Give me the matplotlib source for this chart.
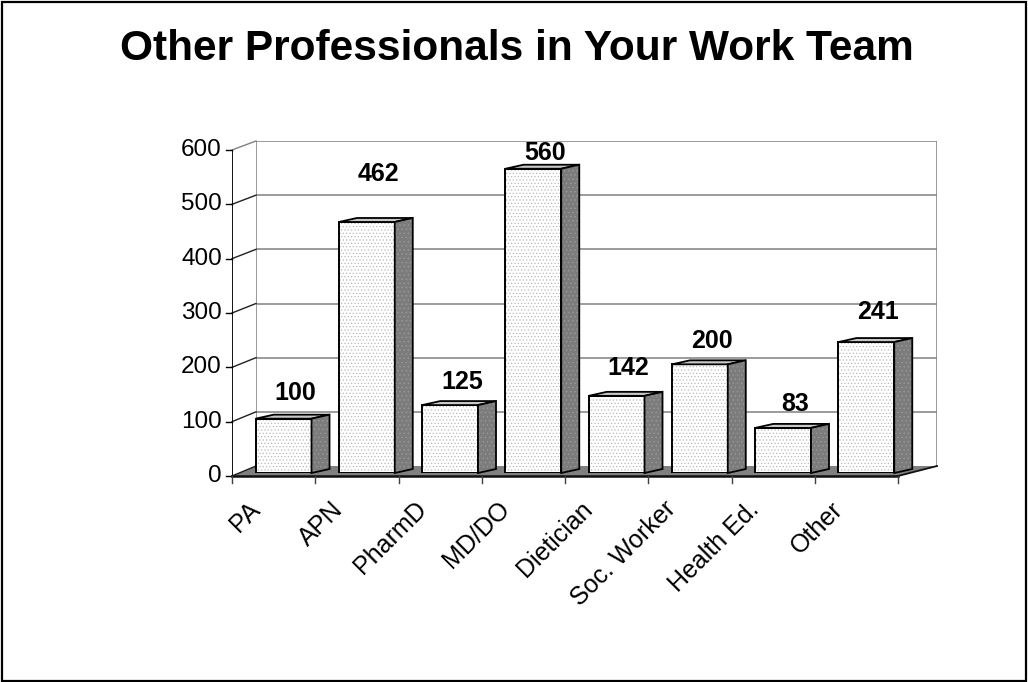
import matplotlib
matplotlib.use("Agg")
import matplotlib.pyplot as plt
from matplotlib.patches import Polygon, Rectangle
from matplotlib.lines import Line2D
from matplotlib.transforms import IdentityTransform, Affine2D
import numpy as np

plt.rcParams['font.family'] = ['Liberation Sans', 'DejaVu Sans']
plt.rcParams['hatch.linewidth'] = 0.5

categories = ['PA', 'APN', 'PharmD', 'MD/DO', 'Dietician', 'Soc. Worker', 'Health Ed.', 'Other']
counts = [100, 462, 125, 560, 142, 200, 83, 241]
y_ticks = [0, 100, 200, 300, 400, 500, 600]
title = 'Other Professionals in Your Work Team'

# vertical gap (px) between each bar top and its value label
label_lift = [26, 48, 23, 16, 28, 23, 24, 30]

W, H = 1028, 682
fig = plt.figure(figsize=(W / 100, H / 100), dpi=100)
fig.patch.set_facecolor('white')


def rect(left, top, right, bottom):
    return [left / W, 1 - bottom / H, (right - left) / W, (bottom - top) / H]


# three planes of the pseudo-3D box: back wall, front edge, bar faces
ax_back = fig.add_axes(rect(256, 141, 937, 466), zorder=0)
ax_front = fig.add_axes(rect(232, 150, 898, 476), zorder=1)
ax_bar = fig.add_axes(rect(242, 147, 908, 473), zorder=2)
n = len(categories)
for ax in (ax_back, ax_front, ax_bar):
    ax.set_xlim(0, n)
    ax.set_ylim(y_ticks[0], y_ticks[-1])
    ax.axis('off')
    ax.patch.set_visible(False)

PX = IdentityTransform()
fig.canvas.draw()


def disp(ax, x, y):
    return np.asarray(ax.transData.transform((x, y)))


def seg(ax, p, q, **kw):
    ax.add_line(Line2D([p[0], q[0]], [p[1], q[1]], transform=PX, clip_on=False, **kw))


# back wall grid and edges
ax_back.hlines(y_ticks[1:], 0, n, color='#808080', lw=1.1)
ax_back.vlines([0, n], y_ticks[0], y_ticks[-1], color='#808080', lw=1.1)

# floor
floor = [disp(ax_front, 0, 0), disp(ax_front, n, 0), disp(ax_back, n, 0), disp(ax_back, 0, 0)]
ax_front.add_patch(Polygon(floor, closed=True, facecolor='#808080', edgecolor='none',
                           transform=PX, clip_on=False))

# left wall lines
for v in y_ticks:
    col = '#808080' if v == y_ticks[-1] else '#202020'
    seg(ax_front, disp(ax_front, 0, v), disp(ax_back, 0, v), color=col, lw=1.0)

# front value axis with outward ticks and labels
ax_front.vlines(0, y_ticks[0], y_ticks[-1], color='black', lw=1.3)
for v in y_ticks:
    p = disp(ax_front, 0, v)
    seg(ax_front, p, p + np.array([-6, 0]), color='black', lw=1.0)
    ax_front.text(0, v, str(v), transform=ax_front.transData + Affine2D().translate(-10, 0),
                  ha='right', va='center', fontsize=17.5)

# front floor edge, right floor edge and category ticks
seg(ax_front, disp(ax_front, 0, 0), disp(ax_front, n, 0), color='#101010', lw=1.8)
seg(ax_front, disp(ax_front, n, 0), disp(ax_back, n, 0), color='#101010', lw=1.3)
for i in range(n + 1):
    p = disp(ax_front, i, 0)
    seg(ax_front, p, p + np.array([0, -7]), color='#404040', lw=1.0)

# category labels
for i, cat in enumerate(categories):
    ax_front.text(i + 0.5, 0, cat, transform=ax_front.transData + Affine2D().translate(-26, -21),
                  rotation=45, ha='right', va='top', rotation_mode='anchor', fontsize=18)

# bars: front faces, tops and sides
width = 0.67
depth = np.array([18, 4])
xs = np.arange(n) + 0.5
ax_bar.bar(xs, counts, width=width, color='white', hatch='.....', edgecolor='#b8b8b8',
           linewidth=0, zorder=2)
ax_bar.bar(xs, counts, width=width, fill=False, edgecolor='black', linewidth=1.4, zorder=3)
for i, (x, v) in enumerate(zip(xs, counts)):
    a = disp(ax_bar, x - width / 2, v)
    b = disp(ax_bar, x + width / 2, v)
    c = disp(ax_bar, x + width / 2, 0)
    top = [a, b, b + depth, a + depth]
    side = [b, c, c + depth, b + depth]
    ax_bar.add_patch(Polygon(top, closed=True, facecolor='#c8c8c8', edgecolor='black',
                             lw=1.3, transform=PX, clip_on=False, zorder=4))
    ax_bar.add_patch(Polygon(side, closed=True, facecolor='#7c7c7c', edgecolor='#9a9a9a',
                             hatch='....', lw=0, transform=PX, clip_on=False, zorder=4))
    ax_bar.add_patch(Polygon(side, closed=True, fill=False, edgecolor='black',
                             lw=1.3, transform=PX, clip_on=False, zorder=5))
    ax_bar.text(x, v, str(v), transform=ax_bar.transData + Affine2D().translate(12, label_lift[i]),
                ha='center', va='center', fontsize=18, fontweight='bold', zorder=6)

# title and outer frame
fig.text(0.5025, 1 - 49 / H, title, ha='center', va='center', fontsize=30.5, fontweight='bold')
fig.add_artist(Rectangle((1.5, 1.5), W - 3.5, H - 3, transform=PX, fill=False,
                         edgecolor='black', lw=1.6))

fig.savefig('out.png', dpi=100)
